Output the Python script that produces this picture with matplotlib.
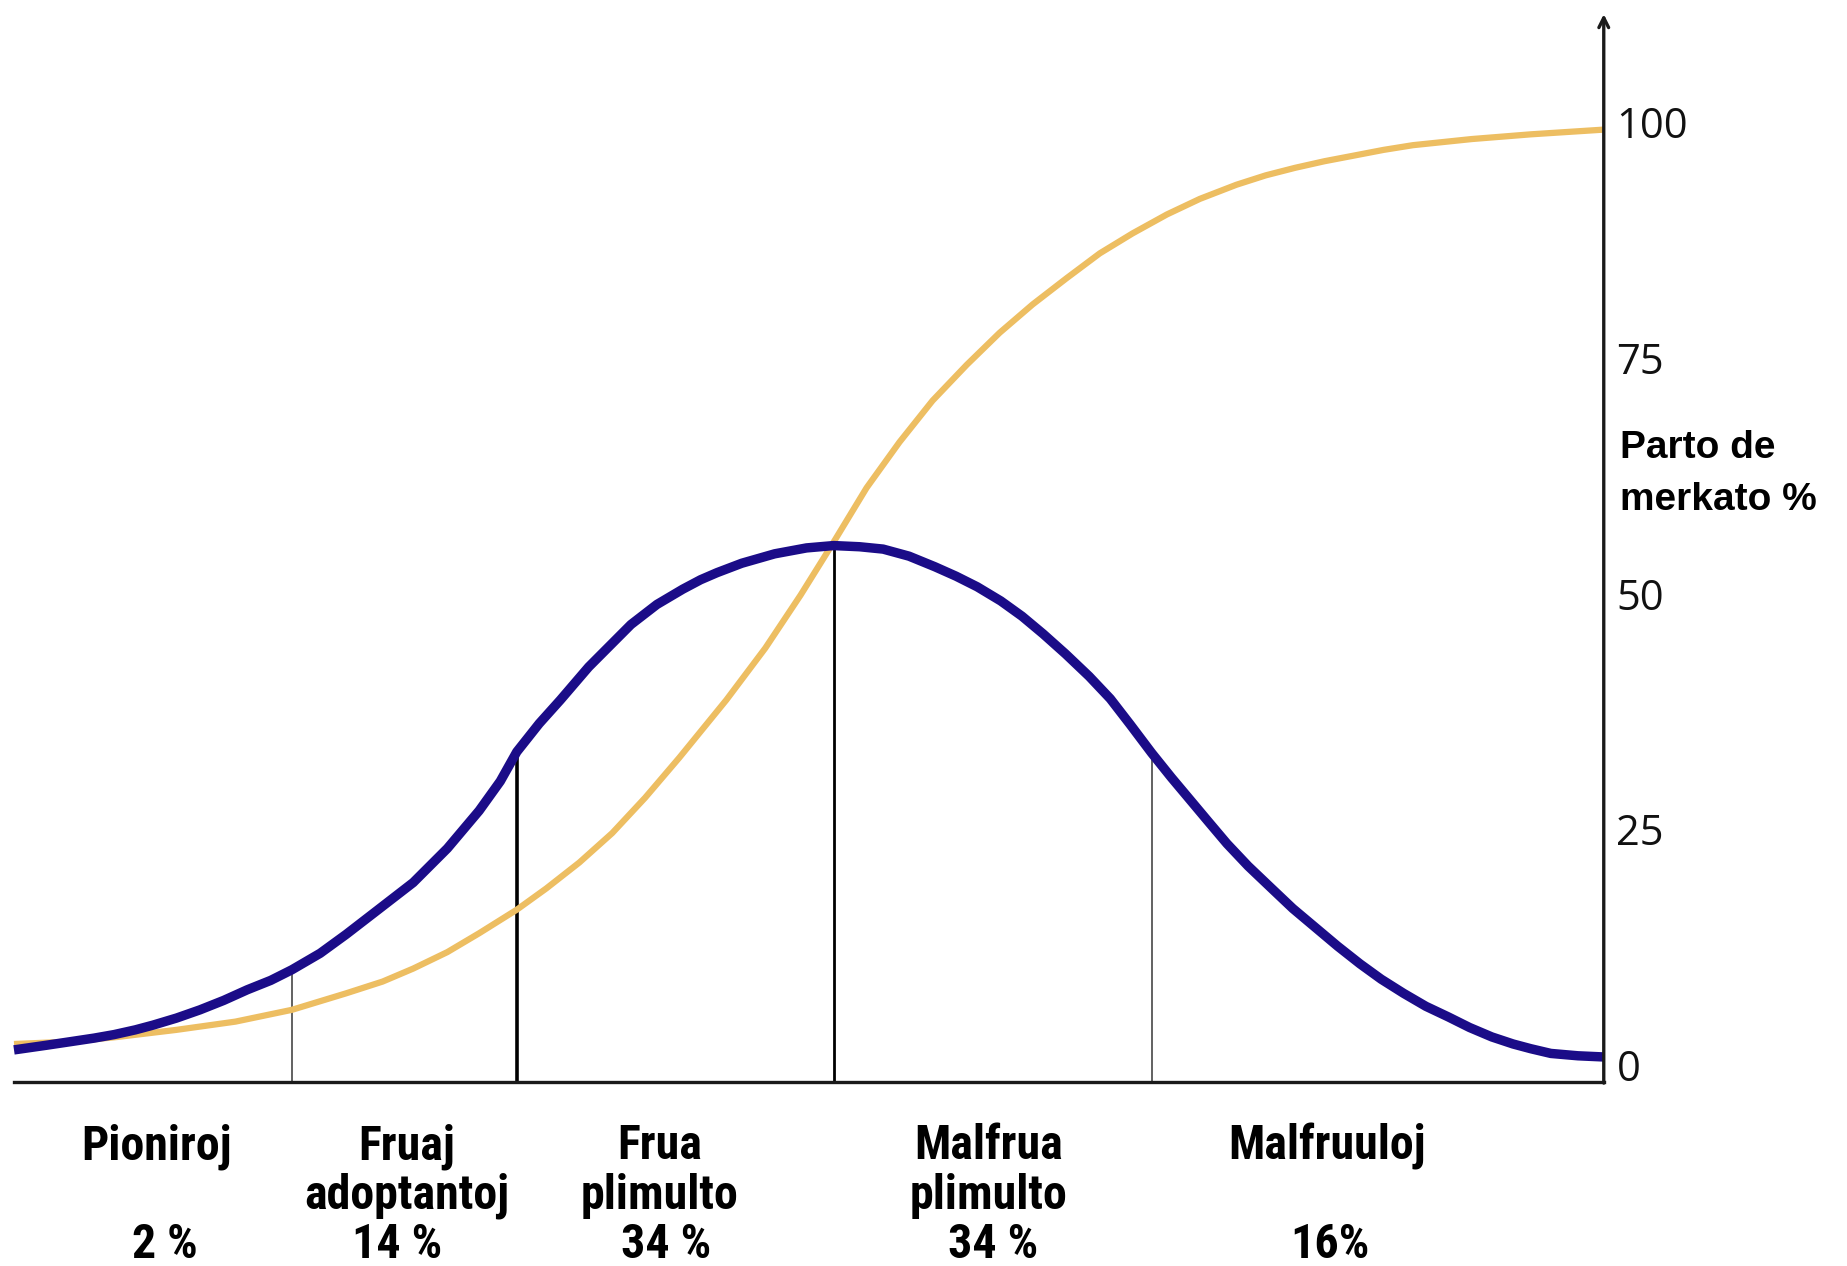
import matplotlib.pyplot as plt

# adoption curve (blue bell), x: 0..100, y: percent
bell_x = [0, 2.07, 3.56, 5.04, 6.30, 7.63, 8.74, 10.22, 11.70, 13.19, 14.67, 16.15,
          17.48, 19.26, 20.89, 22.81, 25.11, 27.26, 29.26, 30.59, 31.63, 33.04, 34.37,
          36.15, 37.48, 38.81, 40.44, 42.07, 43.19, 44.22, 45.78, 47.85, 49.85, 51.56,
          53.19, 54.67, 56.30, 57.93, 59.26, 60.59, 62.07, 63.41, 64.74, 66.15, 67.63,
          68.96, 70.22, 71.56, 72.81, 73.93, 75.11, 76.30, 77.63, 79.11, 80.44, 81.85,
          83.26, 84.67, 86.0, 87.41, 88.81, 90.22, 91.56, 92.96, 94.30, 95.41, 96.67,
          98.37, 100]
bell_y = [2.125, 2.625, 3.0, 3.375, 3.75, 4.25, 4.75, 5.5, 6.375, 7.375, 8.5, 9.5,
          10.625, 12.375, 14.375, 16.875, 19.875, 23.5, 27.5, 30.625, 33.75, 36.75, 39.25,
          42.75, 45.0, 47.25, 49.375, 51.0, 52.0, 52.75, 53.75, 54.75, 55.375, 55.625,
          55.5, 55.25, 54.5, 53.375, 52.375, 51.25, 49.75, 48.125, 46.25, 44.125, 41.75,
          39.375, 36.625, 33.625, 31.0, 28.75, 26.375, 24.0, 21.625, 19.25, 17.125, 15.125,
          13.125, 11.25, 9.625, 8.125, 6.75, 5.625, 4.5, 3.5, 2.75, 2.25, 1.75,
          1.5, 1.375]

# market share (orange S-curve)
share_x = [0, 3.56, 6.52, 10.22, 13.93, 17.48, 20.89, 23.19, 25.11, 27.26, 29.26,
           31.63, 33.48, 35.56, 37.63, 39.70, 41.85, 44.81, 47.26, 49.48, 51.56, 53.63,
           55.70, 57.78, 59.93, 62.0, 64.07, 66.22, 68.30, 70.37, 72.52, 74.59, 76.89,
           78.74, 80.59, 82.44, 84.30, 86.15, 88.0, 91.70, 95.41, 100]
share_y = [2.75, 3.0, 3.5, 4.25, 5.125, 6.375, 8.125, 9.375, 10.75, 12.5, 14.5,
           17.0, 19.25, 22.0, 25.125, 28.875, 33.125, 39.25, 44.75, 50.375, 56.0, 61.75,
           66.6, 71.0, 74.8, 78.2, 81.2, 84.0, 86.625, 88.75, 90.75, 92.4, 93.9,
           94.9, 95.7, 96.4, 97.0, 97.6, 98.1, 98.75, 99.25, 99.75]

# group boundaries and the height where they meet the bell
bounds = [17.48, 31.63, 51.56, 71.56]
bound_tops = [10.625, 33.75, 55.625, 33.625]

groups = ['Pioniroj', 'Fruaj\nadoptantoj', 'Frua\nplimulto', 'Malfrua\nplimulto', 'Malfruuloj']
shares = ['2 %', '14 %', '34 %', '34 %', '16%']
yticks = [0, 25, 50, 75, 100]

fig = plt.figure(figsize=(18.47, 12.66), dpi=100)
ax = fig.add_axes([0, 0, 1, 1])
ax.set_xlim(-0.88, 115.3)
ax.set_ylim(-20.8, 113.5)
ax.axis('off')

# division lines
bstyle = [('#555555', 1.3), ('black', 2.6), ('black', 2.0), ('#555555', 1.3)]
for b, t, (c, w) in zip(bounds, bound_tops, bstyle):
    ax.plot([b, b], [-1.25, t], color=c, lw=w, zorder=1)

ax.plot(share_x, share_y, color='#EDBE62', lw=4.5, solid_capstyle='butt',
        solid_joinstyle='round', zorder=2)
ax.plot(bell_x, bell_y, color='#1B0C88', lw=6.8, solid_capstyle='butt',
        solid_joinstyle='round', zorder=3)

# axes
ax.plot([0, 100], [-1.25, -1.25], color='#1a1a1a', lw=2.4, zorder=4)
ax.annotate('', xy=(100, 112), xytext=(100, -1.4),
            arrowprops=dict(arrowstyle='->,head_length=0.7,head_width=0.35',
                            color='#1a1a1a', lw=2.4, shrinkA=0, shrinkB=0))

for v in yticks:
    ax.text(100.8, v, str(v), ha='left', va='center', fontsize=30,
            family='Open Sans', color='#111111')

ax.text(101.0, 66.0, 'Parto de', ha='left', va='center', fontsize=28,
        fontweight='bold', family='Liberation Sans')
ax.text(101.0, 60.5, 'merkato %', ha='left', va='center', fontsize=28,
        fontweight='bold', family='Liberation Sans')

# group labels under the axis
label_x = [8.96, 24.7, 40.6, 61.3, 82.6]
share_lx = [9.5, 24.1, 41.0, 61.6, 82.8]
nfont = ['Roboto Condensed', 'Liberation Sans']
for g, lx in zip(groups, label_x):
    for i, line in enumerate(g.split('\n')):
        ax.text(lx, -9.5 - 5.25 * i, line, ha='center', va='baseline',
                fontsize=34.5, fontweight='bold', family=nfont)
for s, lx in zip(shares, share_lx):
    ax.text(lx, -20.0, s, ha='center', va='baseline', fontsize=34.5,
            fontweight='bold', family=nfont)

fig.savefig('out.png', dpi=100)
